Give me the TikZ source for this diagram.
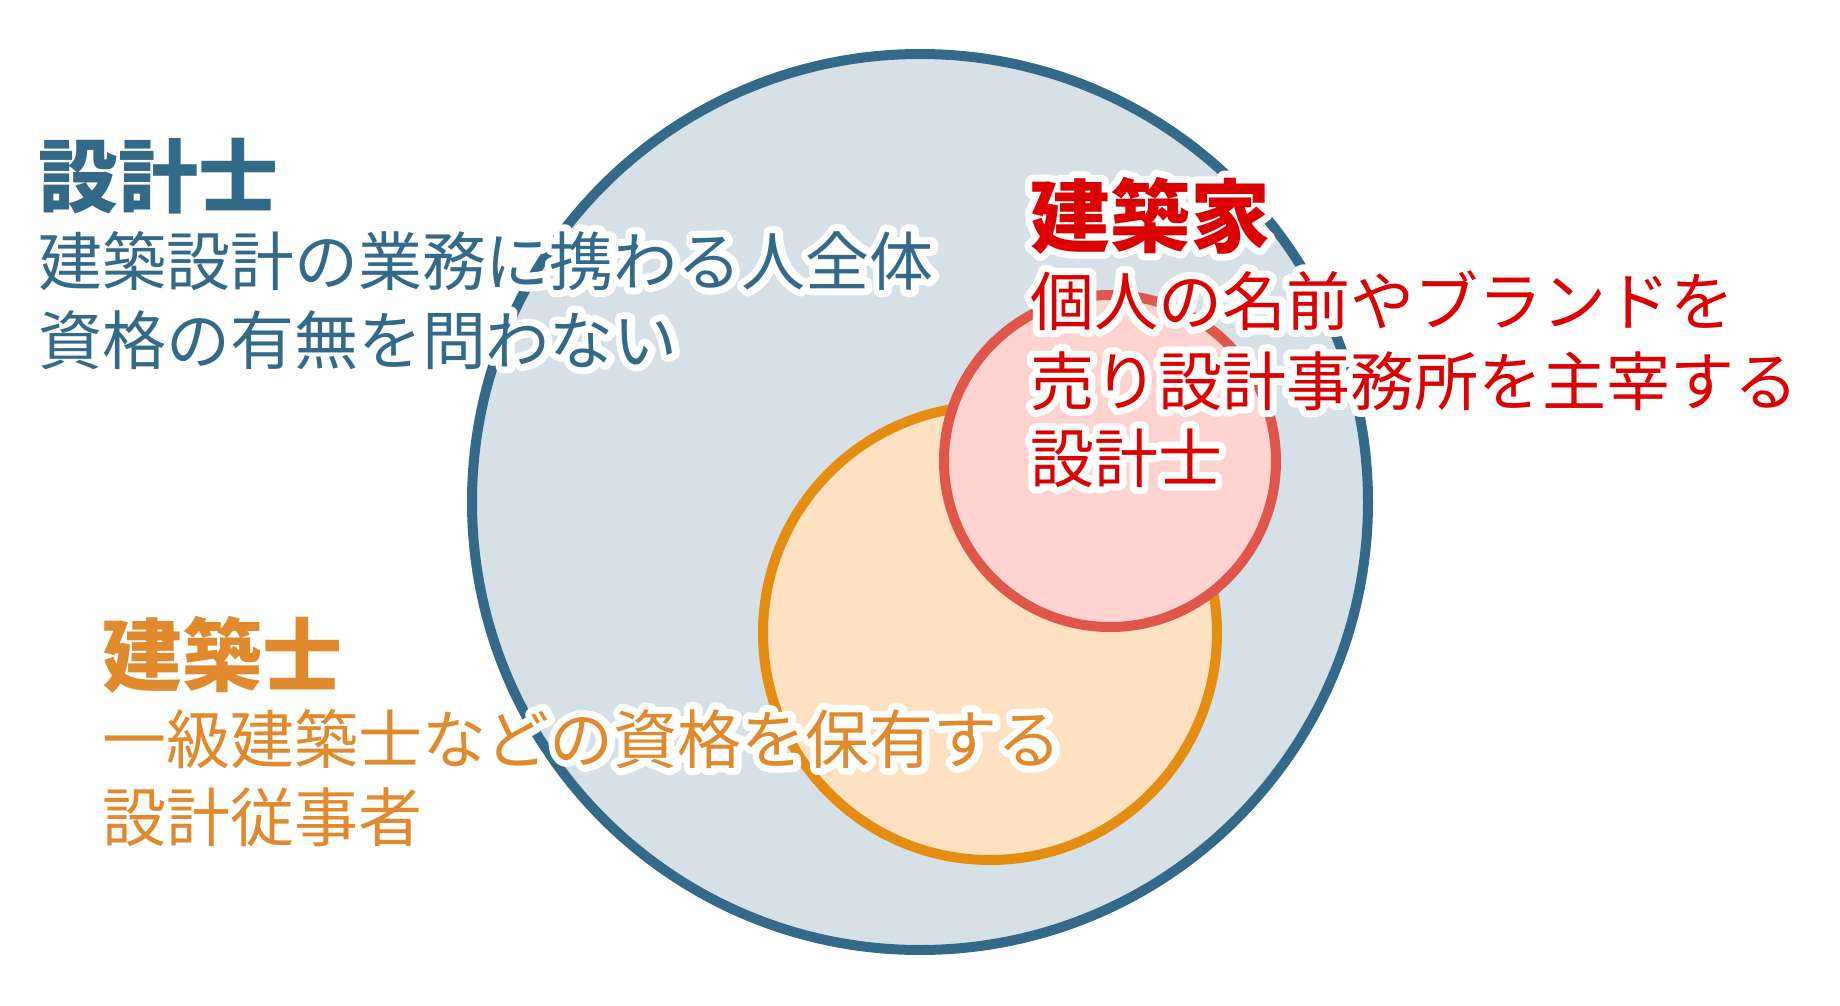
\documentclass[tikz,border=0pt]{standalone}
\usepackage{fontspec}
\newfontfamily\jpfont{Noto Sans CJK JP}
\definecolor{bluestroke}{HTML}{346A89}
\definecolor{bluefill}{HTML}{D6E0E7}
\definecolor{orangestroke}{HTML}{E48D10}
\definecolor{orangefill}{HTML}{FDE1C1}
\definecolor{orangetext}{HTML}{E0892D}
\definecolor{redstroke}{HTML}{E0564A}
\definecolor{redfill}{HTML}{FFD3CF}
\definecolor{redtext}{HTML}{DD0000}
\newcommand\halotext[4]{%
  \node[#3,text=white,anchor=base west] at (#2)
    {\special{pdf:code 1 1 1 RG 14 w 1 j 1 J 2 Tr}#4\special{pdf:code 0 Tr 1 w}};%
  \node[#3,anchor=base west] (#1) at (#2) {#4};}
\tikzset{
  base/.style={inner sep=0pt,outer sep=0pt},
  ttl/.style={base,font=\jpfont\bfseries\fontsize{80pt}{80pt}\selectfont},
  desc/.style={base,font=\jpfont\fontsize{64pt}{80pt}\selectfont},
  bluettl/.style={ttl,text=bluestroke},
  bluedesc/.style={desc,text=bluestroke},
  redttl/.style={ttl,text=redtext},
  reddesc/.style={desc,text=redtext},
  orangettl/.style={ttl,text=orangetext},
  orangedesc/.style={desc,text=orangetext},
}
\begin{document}
\begin{tikzpicture}[x=1pt,y=-1pt]
\useasboundingbox (0,0) rectangle (1840,1006);
\fill[white] (0,0) rectangle (1840,1006);
\draw[bluestroke,fill=bluefill,line width=10pt] (920,502) circle[radius=448];
\draw[orangestroke,fill=orangefill,line width=10pt] (990,633) circle[radius=227];
\draw[redstroke,fill=redfill,line width=10pt] (1110,461) circle[radius=166];
% blue
\halotext{sttl}{38,206}{bluettl}{設計士}
\halotext{sd1}{38,285}{bluedesc}{建築設計の業務に携わる人全体}
\halotext{sd2}{38,364}{bluedesc}{資格の有無を問わない}
% red
\halotext{kttl}{1030,246}{redttl}{建築家}
\halotext{kd1}{1030,325}{reddesc}{個人の名前やブランドを}
\halotext{kd2}{1030,405}{reddesc}{売り設計事務所を主宰する}
\halotext{kd3}{1030,482}{reddesc}{設計士}
% orange
\halotext{ottl}{102,685}{orangettl}{建築士}
\halotext{od1}{102,763}{orangedesc}{一級建築士などの資格を保有する}
\halotext{od2}{102,841}{orangedesc}{設計従事者}
\end{tikzpicture}
\end{document}
